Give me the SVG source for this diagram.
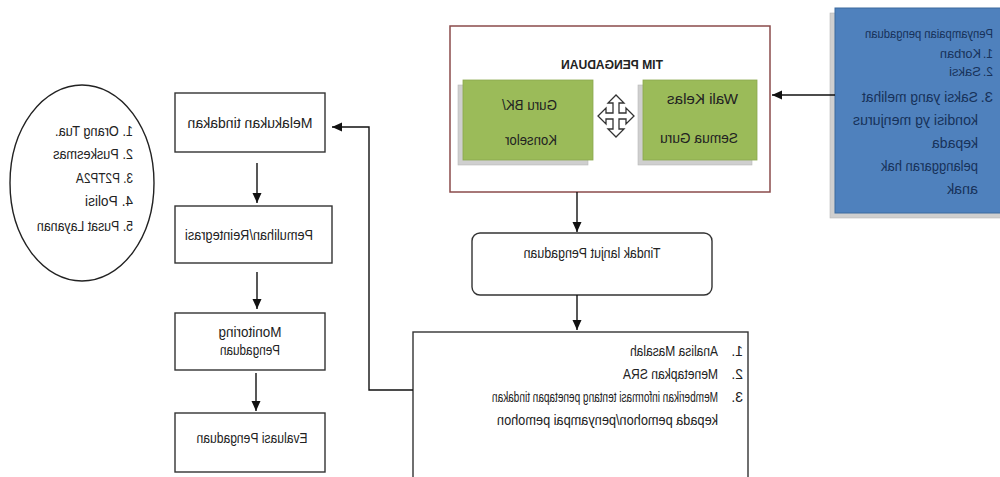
<svg xmlns="http://www.w3.org/2000/svg" width="1000" height="477" viewBox="0 0 1000 477">
<style>
text{font-family:"Liberation Sans",Arial,sans-serif;fill:#222;}
.box{fill:#fff;stroke:#333;stroke-width:1.4;}
.green{fill:#9bbb59;stroke:#8aa84e;stroke-width:0.8;}
.shadow{fill:#cfcfcf;stroke:#b8b8b8;stroke-width:0.6;}
.t13{font-size:14px;}
.blue{fill:#17325a;}
.line{fill:none;stroke:#111;stroke-width:1.4;}
</style>
<defs>
<marker id="ah" markerUnits="userSpaceOnUse" markerWidth="10" markerHeight="10" refX="10" refY="5" orient="auto">
<path d="M0,0.5 L10,5 L0,9.5 z" fill="#111"/>
</marker>
</defs>
<rect x="0" y="0" width="1000" height="477" fill="#fff"/>
<g transform="matrix(-1 0 0 1 1000 0)">
  <g id="pelapor">
    <rect class="shadow" x="-5" y="13" width="175" height="205"/>
    <rect x="-5" y="8" width="170" height="205" fill="#4f81bd" stroke="#3d6a9e" stroke-width="1"/>
    <text class="blue" x="7" y="38" font-size="12" textLength="128" lengthAdjust="spacingAndGlyphs">Penyampaian pengaduan</text>
    <text class="blue" x="7" y="58" font-size="12">1.</text>
    <text class="blue" x="19" y="58" font-size="12" textLength="41" lengthAdjust="spacingAndGlyphs">Korban</text>
    <text class="blue" x="7" y="76" font-size="12">2.</text>
    <text class="blue" x="19" y="76" font-size="12" textLength="32" lengthAdjust="spacingAndGlyphs">Saksi</text>
    <text class="blue" x="7" y="102" font-size="15">3.</text>
    <text class="blue" x="22" y="102" font-size="15" textLength="116" lengthAdjust="spacingAndGlyphs">Saksi yang melihat</text>
    <text class="blue" x="22" y="125" font-size="15" textLength="125" lengthAdjust="spacingAndGlyphs">kondisi yg menjurus</text>
    <text class="blue" x="22" y="148" font-size="15" textLength="46" lengthAdjust="spacingAndGlyphs">kepada</text>
    <text class="blue" x="22" y="171" font-size="15" textLength="97" lengthAdjust="spacingAndGlyphs">pelanggaran hak</text>
    <text class="blue" x="22" y="194" font-size="15" textLength="31" lengthAdjust="spacingAndGlyphs">anak</text>
  </g>
  <g id="tim-pengaduan">
    <rect x="230" y="26" width="320" height="166" fill="#fff" stroke="#8a4b4b" stroke-width="1.5"/>
    <text x="388" y="69" font-size="12.5" font-weight="bold" text-anchor="middle" textLength="102" lengthAdjust="spacingAndGlyphs">TIM PENGADUAN</text>
  </g>
  <g id="wali-kelas">
    <rect class="shadow" x="248" y="85" width="114" height="80"/>
    <rect class="green" x="243" y="80" width="114" height="80"/>
    <text class="t13" x="262" y="104" textLength="71" lengthAdjust="spacingAndGlyphs">Wali Kelas</text>
    <text class="t13" x="262" y="143" textLength="78" lengthAdjust="spacingAndGlyphs">Semua Guru</text>
  </g>
  <g id="guru-bk">
    <rect class="shadow" x="412" y="85" width="130" height="80"/>
    <rect class="green" x="407" y="80" width="130" height="80"/>
    <text class="t13" x="443" y="110" textLength="55" lengthAdjust="spacingAndGlyphs">Guru BK/</text>
    <text class="t13" x="443" y="145" textLength="52" lengthAdjust="spacingAndGlyphs">Konselor</text>
  </g>
  <g id="panah-empat-arah">
    <path transform="translate(384,116)" d="M0,-21 L8,-13 L3,-13 L3,-3 L10,-3 L10,-8 L18,0 L10,8 L10,3 L3,3 L3,13 L8,13 L0,21 L-8,13 L-3,13 L-3,3 L-10,3 L-10,8 L-18,0 L-10,-8 L-10,-3 L-3,-3 L-3,-13 L-8,-13 Z" fill="#fff" stroke="#333" stroke-width="1.3" stroke-linejoin="miter"/>
  </g>
  <g id="tindak-lanjut">
    <rect class="box" x="288" y="233" width="240" height="62" rx="8"/>
    <text class="t13" x="408" y="258" text-anchor="middle" textLength="137" lengthAdjust="spacingAndGlyphs">Tindak lanjut Pengaduan</text>
  </g>
  <g id="analisa">
    <rect class="box" x="252" y="332" width="335" height="150"/>
    <text class="t13" x="257" y="356">1.</text>
    <text class="t13" x="282" y="356" textLength="88" lengthAdjust="spacingAndGlyphs">Analisa Masalah</text>
    <text class="t13" x="257" y="379">2.</text>
    <text class="t13" x="282" y="379" textLength="95" lengthAdjust="spacingAndGlyphs">Menetapkan SRA</text>
    <text class="t13" x="257" y="402">3.</text>
    <text class="t13" x="282" y="402" textLength="226" lengthAdjust="spacingAndGlyphs">Memberikan informasi tentang penetapan tindakan</text>
    <text class="t13" x="282" y="425" textLength="221" lengthAdjust="spacingAndGlyphs">kepada pemohon/penyampai pemohon</text>
  </g>
  <g id="melakukan-tindakan">
    <rect class="box" x="675" y="93" width="150" height="59"/>
    <text class="t13" x="750" y="128" text-anchor="middle" textLength="125" lengthAdjust="spacingAndGlyphs">Melakukan tindakan</text>
  </g>
  <g id="pemulihan">
    <rect class="box" x="668" y="206" width="157" height="57"/>
    <text class="t13" x="751" y="240" text-anchor="middle" textLength="128" lengthAdjust="spacingAndGlyphs">Pemulihan/Reintegrasi</text>
  </g>
  <g id="monitoring">
    <rect class="box" x="675" y="313" width="150" height="57"/>
    <text class="t13" x="750" y="337" text-anchor="middle" textLength="63" lengthAdjust="spacingAndGlyphs">Monitoring</text>
    <text class="t13" x="750" y="355" text-anchor="middle" textLength="60" lengthAdjust="spacingAndGlyphs">Pengaduan</text>
  </g>
  <g id="evaluasi">
    <rect class="box" x="675" y="413" width="150" height="59"/>
    <text class="t13" x="748" y="443" text-anchor="middle" textLength="111" lengthAdjust="spacingAndGlyphs">Evaluasi Pengaduan</text>
  </g>
  <g id="mitra">
    <ellipse cx="918" cy="183" rx="72" ry="98" fill="#fff" stroke="#222" stroke-width="1.4"/>
    <text class="t13" x="867" y="136" textLength="78" lengthAdjust="spacingAndGlyphs">1. Orang Tua.</text>
    <text class="t13" x="867" y="159" textLength="80" lengthAdjust="spacingAndGlyphs">2. Puskesmas</text>
    <text class="t13" x="867" y="183" textLength="57" lengthAdjust="spacingAndGlyphs">3. P2TP2A</text>
    <text class="t13" x="867" y="206" textLength="48" lengthAdjust="spacingAndGlyphs">4. Polisi</text>
    <text class="t13" x="867" y="231" textLength="96" lengthAdjust="spacingAndGlyphs">5. Pusat Layanan</text>
  </g>
  <g id="connectors">
    <line class="line" x1="165" y1="95" x2="228" y2="95" marker-end="url(#ah)"/>
    <line class="line" x1="423" y1="192" x2="423" y2="232" marker-end="url(#ah)"/>
    <line class="line" x1="423" y1="295" x2="423" y2="330" marker-end="url(#ah)"/>
    <polyline class="line" points="587,390 631,390 631,127 668,127" marker-end="url(#ah)"/>
    <line class="line" x1="743" y1="163" x2="743" y2="203" marker-end="url(#ah)"/>
    <line class="line" x1="743" y1="272" x2="743" y2="309" marker-end="url(#ah)"/>
    <line class="line" x1="744" y1="373" x2="744" y2="411" marker-end="url(#ah)"/>
  </g>
</g>
</svg>
